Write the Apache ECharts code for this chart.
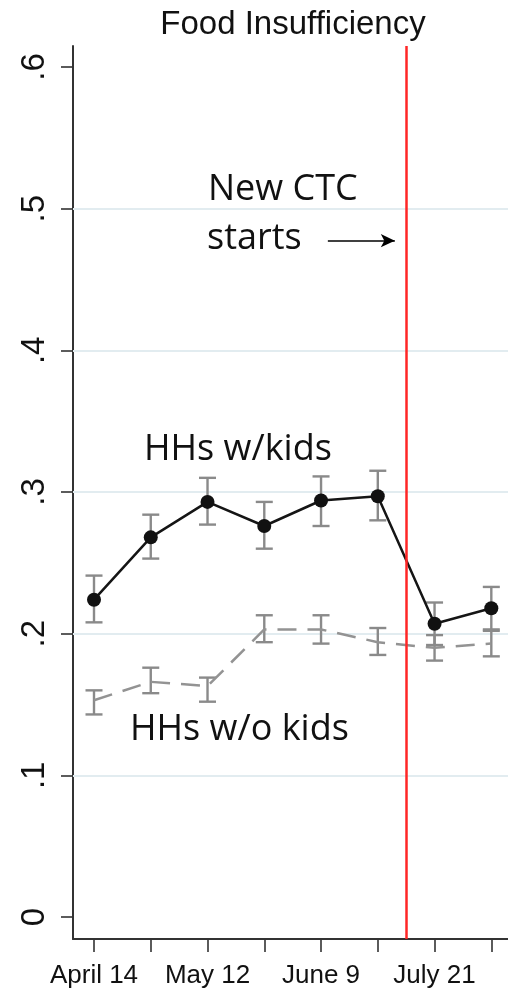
<!DOCTYPE html>
<html>
<head>
<meta charset="utf-8">
<script src="https://cdn.jsdelivr.net/npm/echarts@6/dist/echarts.min.js"></script>
<style>
html,body{margin:0;padding:0;background:#fff;}
#chart{width:508px;height:988px;}
</style>
</head>
<body>
<div id="chart"></div>
<script>
// ---- data ----
const periodIndex = [0, 1, 2, 3, 4, 5, 6, 7];
const xTickLabelIndex = [0, 2, 4, 6];
const xTickLabels = ['April 14', 'May 12', 'June 9', 'July 21'];
const yTickValues = [0, 0.1, 0.2, 0.3, 0.4, 0.5, 0.6];
const yTickLabels = ['0', '.1', '.2', '.3', '.4', '.5', '.6'];
const gridValues = [0.1, 0.2, 0.3, 0.4, 0.5];

const kids   = [0.224, 0.268, 0.293, 0.276, 0.294, 0.297, 0.207, 0.218];
const kidsLo = [0.208, 0.253, 0.277, 0.260, 0.276, 0.280, 0.192, 0.203];
const kidsHi = [0.241, 0.284, 0.310, 0.293, 0.311, 0.315, 0.222, 0.233];

const noKids   = [0.153, 0.166, 0.163, 0.203, 0.203, 0.194, 0.190, 0.193];
const noKidsLo = [0.143, 0.158, 0.152, 0.194, 0.193, 0.185, 0.181, 0.184];
const noKidsHi = [0.160, 0.176, 0.169, 0.213, 0.213, 0.204, 0.199, 0.202];

const ctcStart = 5.5;
const arrowFrom = [4.12, 0.4774];
const arrowTo = [5.30, 0.4774];

// ---- chart ----
const chart = echarts.init(document.getElementById('chart'), null, {renderer: 'canvas'});
const errColor = '#8a8a8a';
const axisColor = '#333';

function errBars(lo, hi) {
  return periodIndex.map((x, i) => [x, lo[i], hi[i]]);
}
function renderErr(params, api) {
  const x = api.value(0);
  const top = api.coord([x, api.value(2)]);
  const bot = api.coord([x, api.value(1)]);
  const w = 8.5;
  const style = {stroke: errColor, lineWidth: 2.4};
  return {
    type: 'group',
    children: [
      {type: 'line', shape: {x1: top[0], y1: top[1], x2: bot[0], y2: bot[1]}, style},
      {type: 'line', shape: {x1: top[0] - w, y1: top[1], x2: top[0] + w, y2: top[1]}, style},
      {type: 'line', shape: {x1: bot[0] - w, y1: bot[1], x2: bot[0] + w, y2: bot[1]}, style}
    ]
  };
}

const option = {
  animation: false,
  backgroundColor: '#fff',
  grid: {left: 73, right: 0, top: 46, bottom: 49, containLabel: false, outerBoundsMode: 'none'},
  xAxis: {
    type: 'value',
    min: -0.37,
    max: 7.294,
    axisLine: {show: true, onZero: false, lineStyle: {color: axisColor, width: 2}},
    axisTick: {show: true, length: 13, inside: false, lineStyle: {color: axisColor, width: 1.6}, customValues: periodIndex},
    axisLabel: {
      show: true,
      customValues: xTickLabelIndex,
      formatter: v => xTickLabels[xTickLabelIndex.indexOf(Math.round(v))] || '',
      margin: 24,
      fontFamily: 'Liberation Sans',
      fontSize: 26,
      color: '#111'
    },
    splitLine: {show: false}
  },
  yAxis: {
    type: 'value',
    min: -0.0155,
    max: 0.6148,
    axisLine: {show: true, onZero: false, lineStyle: {color: axisColor, width: 2}},
    axisTick: {show: true, length: 12, inside: false, lineStyle: {color: axisColor, width: 1.6}, customValues: yTickValues},
    axisLabel: {
      show: true,
      customValues: yTickValues,
      formatter: v => yTickLabels[yTickValues.findIndex(t => Math.abs(t - v) < 1e-6)],
      rotate: 90,
      margin: 22,
      fontFamily: 'Liberation Sans',
      fontSize: 33,
      color: '#111'
    },
    splitLine: {show: false}
  },
  series: [
    {
      type: 'custom',
      name: 'noKidsCI',
      renderItem: renderErr,
      data: errBars(noKidsLo, noKidsHi),
      encode: {x: 0, y: [1, 2]},
      z: 2,
      silent: true,
      markLine: {
        silent: true,
        symbol: 'none',
        label: {show: false},
        lineStyle: {color: '#e2ecf0', width: 2, type: 'solid'},
        data: gridValues.map(v => ({yAxis: v})),
        z: 1
      }
    },
    {
      type: 'custom',
      name: 'kidsCI',
      renderItem: renderErr,
      data: errBars(kidsLo, kidsHi),
      encode: {x: 0, y: [1, 2]},
      z: 2,
      silent: true
    },
    {
      type: 'line',
      name: 'HHs w/o kids',
      data: periodIndex.map((x, i) => [x, noKids[i]]),
      showSymbol: false,
      symbol: 'none',
      lineStyle: {color: '#939393', width: 2.5, type: [19, 11]},
      z: 3,
      silent: true
    },
    {
      type: 'line',
      name: 'HHs w/kids',
      data: periodIndex.map((x, i) => [x, kids[i]]),
      symbol: 'circle',
      symbolSize: 14,
      itemStyle: {color: '#111'},
      lineStyle: {color: '#151515', width: 2.5},
      z: 4,
      silent: true,
      markLine: {
        silent: true,
        symbol: 'none',
        label: {show: false},
        lineStyle: {color: '#ff2626', width: 2.5, type: 'solid'},
        data: [{xAxis: ctcStart}]
      }
    },
    {
      type: 'line',
      name: 'arrow',
      data: [],
      silent: true,
      markLine: {
        silent: true,
        symbol: ['none', 'arrow'],
        symbolSize: [10, 14],
        label: {show: false},
        lineStyle: {color: '#000', width: 1.5, type: 'solid'},
        itemStyle: {color: '#000'},
        data: [[{coord: arrowFrom}, {coord: arrowTo}]]
      }
    }
  ],
  graphic: [
    {type: 'text', x: 293, y: 25, style: {text: 'Food Insufficiency', font: '33px "Liberation Sans"', fill: '#111', align: 'center', verticalAlign: 'middle', textAlign: 'center', textVerticalAlign: 'middle'}},
    {type: 'text', x: 208, y: 190, style: {text: 'New CTC', font: '36px "Open Sans"', fill: '#111', align: 'left', verticalAlign: 'middle', textAlign: 'left', textVerticalAlign: 'middle'}},
    {type: 'text', x: 207, y: 239, style: {text: 'starts', font: '36px "Open Sans"', fill: '#111', align: 'left', verticalAlign: 'middle', textAlign: 'left', textVerticalAlign: 'middle'}},
    {type: 'text', x: 144, y: 450, style: {text: 'HHs w/kids', font: '36px "Open Sans"', fill: '#111', align: 'left', verticalAlign: 'middle', textAlign: 'left', textVerticalAlign: 'middle'}},
    {type: 'text', x: 130, y: 730, style: {text: 'HHs w/o kids', font: '36px "Open Sans"', fill: '#111', align: 'left', verticalAlign: 'middle', textAlign: 'left', textVerticalAlign: 'middle'}}
  ]
};
chart.setOption(option);
</script>
</body>
</html>
